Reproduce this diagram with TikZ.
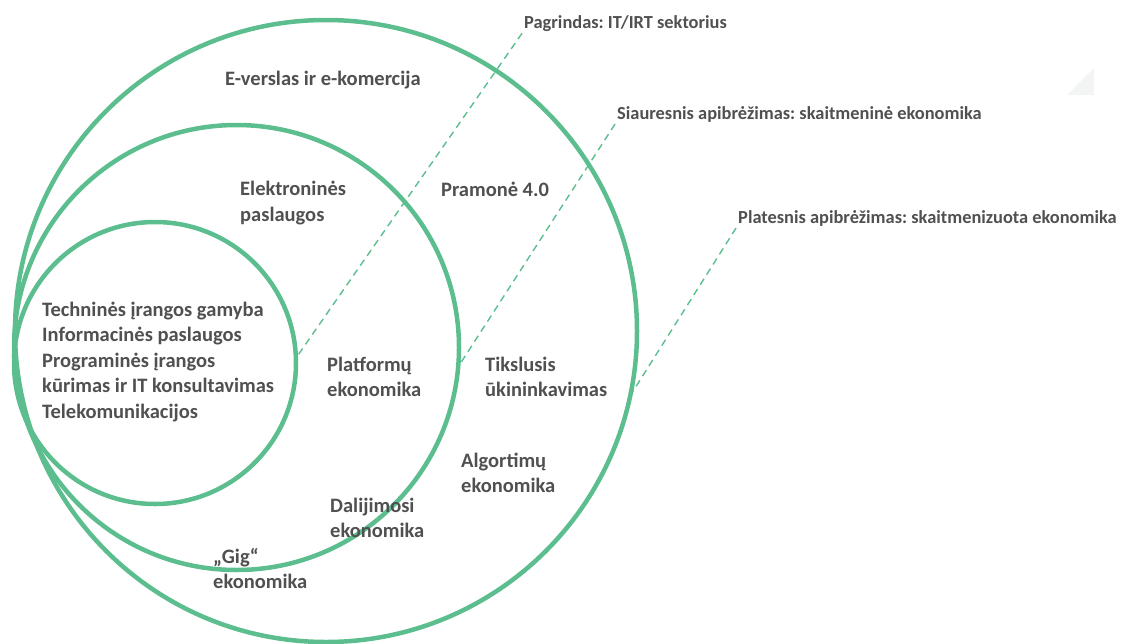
\documentclass[tikz,border=0pt]{standalone}
\usepackage{fontspec}
\setmainfont{Carlito}
\usetikzlibrary{positioning}
\frenchspacing

\definecolor{ringgreen}{RGB}{92,190,142}
\definecolor{textgray}{RGB}{80,80,80}
\definecolor{faintgray}{RGB}{242,245,243}

\begin{document}
\begin{tikzpicture}[
    x=1pt, y=-1pt,
    every node/.style={font=\bfseries\fontsize{20.5}{25.5}\selectfont, text=textgray},
    ring/.style={circle, draw=ringgreen, line width=4.5pt, inner sep=0pt, outer sep=0pt},
    txt/.style={anchor=base west, align=left, inner sep=2pt},
    deflabel/.style={txt, font=\bfseries\fontsize{18.4}{22}\selectfont},
    leader/.style={draw=ringgreen, dash pattern=on 7pt off 5pt, line width=1.4pt}
]
\useasboundingbox (0,0) rectangle (1121,643);

% Nested circles (tangent at the left)
\node[ring, minimum size=622pt] (outer) at (326,331) {};
\node[ring, minimum size=445pt] (middle) at (236.5,347.5) {};
\node[ring, minimum size=282pt] (inner) at (155,363) {};

% Faint corner mark
\fill[faintgray] (1094,68) -- (1094,95) -- (1067,95) -- cycle;

% Definition labels
\node[deflabel] (base) at (522,28) {Pagrindas: IT/IRT sektorius};
\node[deflabel] (narrow) at (615,119) {Siauresnis apibrėžimas: skaitmeninė ekonomika};
\node[deflabel] (broad) at (736,223) {Platesnis apibrėžimas: skaitmenizuota ekonomika};

% Leader lines
\draw[leader] (base.south west) -- (inner.2);
\draw[leader] (narrow.south west) -- (middle.-5);
\draw[leader] (broad.south west) -- (outer.-12);

% Inner circle (base = last line)
\node[txt] (ict) at (40,418) {Techninės įrangos gamyba\\Informacinės paslaugos\\Programinės įrangos\\kūrimas ir IT konsultavimas\\Telekomunikacijos};

% Middle circle
\node[txt] (eserv) at (238,221) {Elektroninės\\paslaugos};
\node[txt] (platf) at (325,396.5) {Platformų\\ekonomika};
\node[txt] (share) at (328,537.5) {Dalijimosi\\ekonomika};
\node[txt] (gig) at (211,588.5) {„Gig“\\ekonomika};

% Outer circle
\node[txt] (ebiz) at (223,85) {E-verslas ir e-komercija};
\node[txt] (ind) at (439,196) {Pramonė 4.0};
\node[txt] (farm) at (483,396.5) {Tikslusis\\ūkininkavimas};
\node[txt] (algo) at (459,492.5) {Algortimų\\ekonomika};

\end{tikzpicture}
\end{document}
